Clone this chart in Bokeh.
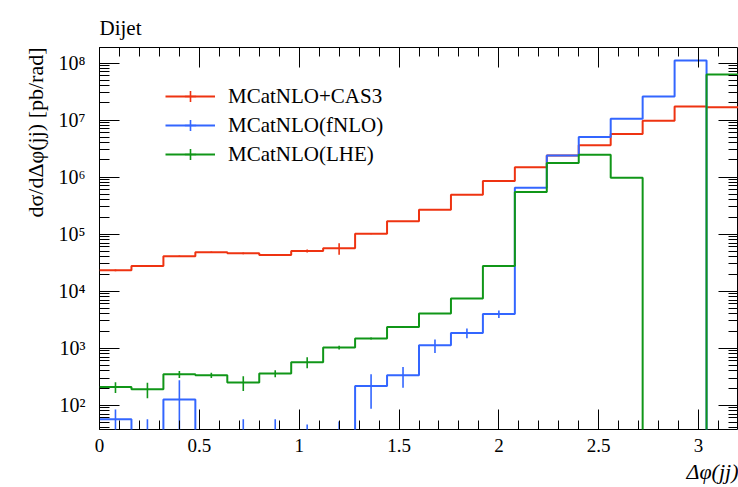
import numpy as np
from bokeh.plotting import figure
from bokeh.models import (FixedTicker, LinearAxis, LogAxis, Legend, Title,
                          LegendItem, ColumnDataSource, CustomJSTickFormatter)
from bokeh.embed import file_html
from bokeh.resources import INLINE

# ---------------- data ----------------
edges = [0.00, 0.16, 0.32, 0.48, 0.64, 0.80, 0.96, 1.12, 1.28, 1.44, 1.60,
         1.76, 1.92, 2.08, 2.24, 2.40, 2.56, 2.72, 2.88, 3.04, 3.20]

red_vals = [23200, 27700, 40900, 48100, 46100, 43100, 50700, 56500, 102000,
            168000, 269000, 493000, 855000, 1490000, 2410000, 3610000,
            5700000, 9800000, 17400000, 16900000]
red_errs = [800, 1000, 1200, 1500, 1500, 1500, 3000, 13000, 2000, 3000,
            4000, 6000, 10000, 15000, 20000, 30000, 40000, 60000, 80000, 80000]

blue_vals = [57, 20, 126, 0, 15, 15, 10, 12, 218, 336, 1127, 1850, 3980,
             655000, 2410000, 5040000, 10600000, 26100000, 111000000, 0]
blue_errs = [27, 37, 148, 0, 42, 42, 36, 40, 131, 133, 300, 360, 600,
             8000, 25000, 50000, 100000, 250000, 1000000, 0]

green_vals = [209, 191, 349, 336, 250, 360, 568, 1026, 1475, 2360, 4050,
              7420, 27700, 548000, 1770000, 2480000, 980000, 0, 0, 63400000]
green_errs = [45, 58, 50, 35, 72, 50, 125, 80, 60, 80, 60, 100, 300,
              5000, 15000, 20000, 10000, 0, 0, 500000]

series_names = ["MCatNLO+CAS3", "MCatNLO(fNLO)", "MCatNLO(LHE)"]
series_colors = ["#EE3311", "#3366FF", "#109618"]

x_ticks = [0, 0.5, 1, 1.5, 2, 2.5, 3]
x_tick_labels = ["0", "0.5", "1", "1.5", "2", "2.5", "3"]
y_ticks = [1e2, 1e3, 1e4, 1e5, 1e6, 1e7, 1e8]
y_tick_labels = ["10²", "10³", "10⁴", "10⁵", "10⁶", "10⁷", "10⁸"]

FLOOR = 1e-3   # stands in for empty bins on the log axis (below the frame)
FONT = "Liberation Serif"

# ---------------- figure ----------------
p = figure(width=738, height=487, y_axis_type="log",
           x_range=(0, 3.2), y_range=(37.5, 1.88e8),
           output_backend="svg", toolbar_location=None,
           min_border_left=99, min_border_right=0,
           min_border_top=47, min_border_bottom=58)
p.grid.visible = False
p.outline_line_color = "black"
p.outline_line_width = 1
p.background_fill_color = "white"

x_minor = [round(0.1 * i, 2) for i in range(0, 33)]
y_minor = [m * 10.0 ** k for k in range(1, 9) for m in range(2, 10)]


def style_axis(ax, show_labels):
    ax.major_tick_in = 20
    ax.major_tick_out = 0
    ax.minor_tick_in = 9
    ax.minor_tick_out = 0
    ax.major_tick_line_color = "black"
    ax.minor_tick_line_color = "black"
    ax.axis_line_color = None
    ax.major_label_text_font = FONT
    ax.major_label_text_color = "black"
    if not show_labels:
        ax.formatter = CustomJSTickFormatter(code="return ''")
        ax.major_label_standoff = 0


xt = FixedTicker(ticks=x_ticks, minor_ticks=x_minor)
yt = FixedTicker(ticks=y_ticks, minor_ticks=y_minor)

p.xaxis.ticker = xt
p.xaxis.major_label_overrides = dict(zip(x_ticks, x_tick_labels))
style_axis(p.xaxis[0], True)
p.xaxis.major_label_text_font_size = "19px"
p.xaxis.major_label_standoff = 9

p.yaxis.ticker = yt
p.yaxis.major_label_overrides = {int(t): l for t, l in zip(y_ticks, y_tick_labels)}
style_axis(p.yaxis[0], True)
p.yaxis.minor_tick_in = 10
p.yaxis.major_label_text_font_size = "20px"
p.yaxis.major_label_standoff = 14

top_ax = LinearAxis(ticker=xt)
style_axis(top_ax, False)
p.add_layout(top_ax, "above")

right_ax = LogAxis(ticker=yt)
style_axis(right_ax, False)
right_ax.minor_tick_in = 10
p.add_layout(right_ax, "right")

# ---------------- histograms ----------------
renderers = []
for vals, errs, color in [(red_vals, red_errs, series_colors[0]),
                          (blue_vals, blue_errs, series_colors[1]),
                          (green_vals, green_errs, series_colors[2])]:
    xs, ys = [], []
    for i, v in enumerate(vals):
        xs += [edges[i], edges[i + 1]]
        ys += [max(v, FLOOR), max(v, FLOOR)]
    line = p.line(xs, ys, line_color=color, line_width=2)
    cx, lo, hi = [], [], []
    for i, (v, e) in enumerate(zip(vals, errs)):
        if v <= 0 and e <= 0:
            continue
        cx.append(0.5 * (edges[i] + edges[i + 1]))
        lo.append(max(v - e, FLOOR))
        hi.append(v + e)
    src = ColumnDataSource(dict(x=cx, lo=lo, hi=hi))
    p.segment(x0="x", y0="lo", x1="x", y1="hi", source=src,
              line_color=color, line_width=1.6)
    # marker kept below the visible range: it only draws the legend's tick
    tick = p.scatter(x=[cx[0]], y=[FLOOR], marker="cross",
                     size=16, line_color=color, line_width=1.6)
    renderers.append((line, tick))

legend = Legend(items=[LegendItem(label=n, renderers=list(r))
                       for n, r in zip(series_names, renderers)],
                location=(66, 261))
legend.glyph_width = 50
legend.glyph_height = 28
legend.label_height = 28
legend.spacing = 1
legend.padding = 0
legend.margin = 0
legend.label_standoff = 13
legend.label_text_font = FONT
legend.label_text_font_size = "21px"
legend.label_text_color = "black"
legend.label_text_baseline = "middle"
legend.border_line_color = None
legend.background_fill_alpha = 0
p.add_layout(legend, "center")

# ---------------- texts outside the frame ----------------
p.add_layout(Title(text="Dijet", align="left", text_font=FONT,
                   text_font_size="21px", text_font_style="normal",
                   text_color="black", standoff=16, offset=0), "above")
p.add_layout(Title(text="Δφ(jj)", align="right", text_font=FONT,
                   text_font_size="22px", text_font_style="italic",
                   text_color="black", standoff=5), "below")
p.add_layout(Title(text="dσ/dΔφ(jj) [pb/rad]", align="right",
                   text_font=FONT, text_font_size="22px",
                   text_font_style="normal", text_color="black",
                   standoff=16), "left")

open("out.html", "w").write(file_html(p, INLINE))
